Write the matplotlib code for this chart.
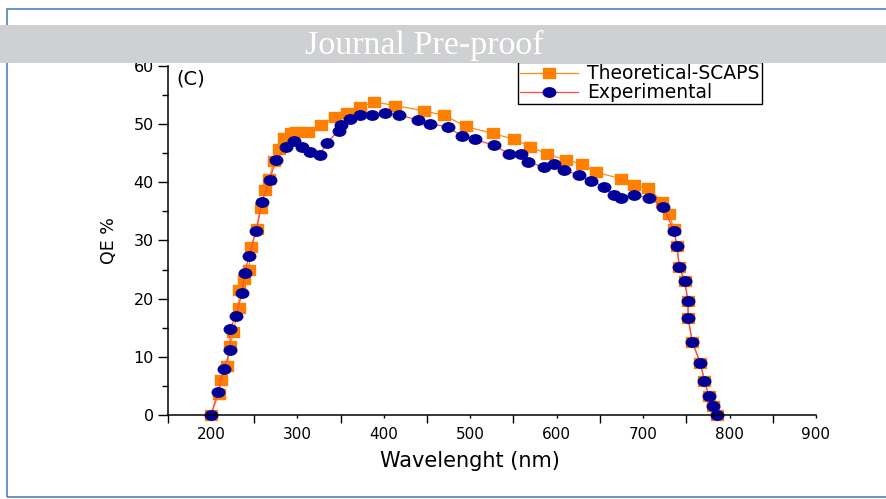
import matplotlib
matplotlib.use("Agg")
import matplotlib.pyplot as plt
from matplotlib.path import Path
from matplotlib.transforms import Affine2D
from matplotlib.patches import Rectangle
from matplotlib.ticker import MultipleLocator, FixedLocator

# QE curves
theo_nm = [200, 209, 212, 219, 222, 226, 232, 233, 238, 244, 246, 253, 258, 262,
           267, 273, 279, 284, 293, 298, 312, 327, 343, 357, 372, 389, 413, 446,
           470, 495, 526, 551, 569, 589, 611, 629, 645, 674, 689, 706, 722, 730,
           736, 739, 742, 748, 752, 752, 757, 766, 771, 776, 781, 785]
theo_qe = [0.0, 3.6, 6.0, 8.4, 11.9, 14.3, 18.4, 21.5, 23.3, 25.0, 28.8, 31.9,
           35.6, 38.7, 40.5, 43.7, 45.7, 47.6, 48.4, 48.7, 48.7, 49.9, 51.2, 52.0,
           52.9, 53.8, 53.2, 52.3, 51.5, 49.6, 48.4, 47.4, 46.1, 44.9, 43.8, 43.2,
           41.8, 40.6, 39.5, 39.0, 36.7, 34.5, 31.9, 29.0, 25.5, 23.0, 19.6, 16.7,
           12.5, 9.0, 5.9, 3.3, 1.6, 0.0]

exp_nm = [200, 208, 215, 222, 222, 229, 236, 239, 244, 252, 259, 268, 275, 287,
          296, 305, 315, 326, 334, 348, 351, 361, 372, 386, 401, 418, 439, 453,
          474, 490, 505, 527, 545, 559, 567, 585, 597, 609, 626, 640, 655, 666,
          674, 690, 707, 723, 736, 739, 742, 748, 752, 752, 757, 766, 771, 776,
          781, 785]
exp_qe = [0.0, 3.9, 7.9, 11.1, 14.8, 17.0, 21.0, 24.4, 27.3, 31.6, 36.7, 40.4,
          43.8, 46.1, 47.1, 46.1, 45.3, 44.7, 46.8, 48.9, 49.9, 50.9, 51.6, 51.6,
          51.9, 51.6, 50.7, 50.1, 49.5, 48.0, 47.4, 46.4, 44.9, 44.9, 43.5, 42.6,
          43.2, 42.1, 41.2, 40.3, 39.2, 37.8, 37.3, 37.8, 37.3, 35.8, 31.6, 29.0,
          25.5, 23.0, 19.6, 16.7, 12.5, 9.0, 5.9, 3.3, 1.6, 0.0]

plt.rcParams['font.family'] = ['DejaVu Sans']

# the original picture is stretched sideways, so are its markers
ellipse = Path.unit_circle().transformed(Affine2D().scale(1.33, 1.0))
wide_sq = Path([(-0.61, -0.5), (0.61, -0.5), (0.61, 0.5), (-0.61, 0.5), (-0.61, -0.5)],
               [Path.MOVETO, Path.LINETO, Path.LINETO, Path.LINETO, Path.CLOSEPOLY])

fig = plt.figure(figsize=(8.86, 4.99), dpi=100)
ax = fig.add_axes([167.7 / 886, 84 / 499, 648.3 / 886, 349 / 499])

ax.plot(theo_nm, theo_qe, color='#ff8c1a', lw=0.9, marker=wide_sq, ms=8,
        mfc='#ff8000', mec='#ff8000', label='Theoretical-SCAPS', clip_on=False)
ax.plot(exp_nm, exp_qe, color='#ff4a3d', lw=0.9, marker=ellipse, ms=9,
        mfc='#000099', mec='#000099', label='Experimental', clip_on=False)

ax.set_xlim(150, 900)
ax.set_ylim(0, 60)
ax.spines['top'].set_visible(False)
ax.spines['right'].set_visible(False)
for s in ('left', 'bottom'):
    ax.spines[s].set_linewidth(1.1)

ax.xaxis.set_major_locator(FixedLocator(range(200, 901, 100)))
ax.xaxis.set_minor_locator(FixedLocator(range(150, 851, 100)))
ax.yaxis.set_major_locator(MultipleLocator(10))
ax.yaxis.set_minor_locator(MultipleLocator(5))
ax.tick_params(axis='x', which='major', direction='out', length=2.5, width=1,
               pad=6, labelsize=11)
ax.tick_params(axis='x', which='minor', direction='out', length=5.5, width=1)
ax.tick_params(axis='y', which='major', direction='out', length=7, width=1,
               pad=3, labelsize=11.5)
ax.tick_params(axis='y', which='minor', direction='out', length=4, width=1)

ax.set_xlabel('Wavelenght (nm)', fontsize=15)
ax.xaxis.set_label_coords((470 - 167.7) / 648.3, -36 / 349)
ax.set_ylabel('QE %', fontsize=12.5)
ax.yaxis.set_label_coords(-50 / 648.3, 0.5)
ax.text(0.014, 0.99, '(C)', transform=ax.transAxes, fontsize=14, va='top')

leg = ax.legend(loc='lower left', bbox_to_anchor=(518 / 886, 1 - 104 / 499),
                bbox_transform=fig.transFigure, fontsize=13.5, frameon=True,
                fancybox=False, edgecolor='black', framealpha=1, handlelength=3.1,
                handletextpad=0.5, labelspacing=0.0, borderpad=0.1,
                borderaxespad=0)
leg.get_frame().set_linewidth(1)

# page border and the "Journal Pre-proof" banner
fig.add_artist(Rectangle((7 / 886, 2 / 499), 1.0, 488 / 499, transform=fig.transFigure,
                         fill=False, edgecolor='#4f81bd', lw=1.2, zorder=9))
fig.add_artist(Rectangle((0, 1 - 63 / 499), 1.0, 38 / 499, transform=fig.transFigure,
                         facecolor='#cfd0d2', edgecolor='none', zorder=10))
fig.text(424 / 886, 1 - 45 / 499, 'Journal Pre-proof', color='white',
         family='Liberation Serif', fontsize=24.5, ha='center', va='center', zorder=11)

fig.savefig('out.png', dpi=100)
